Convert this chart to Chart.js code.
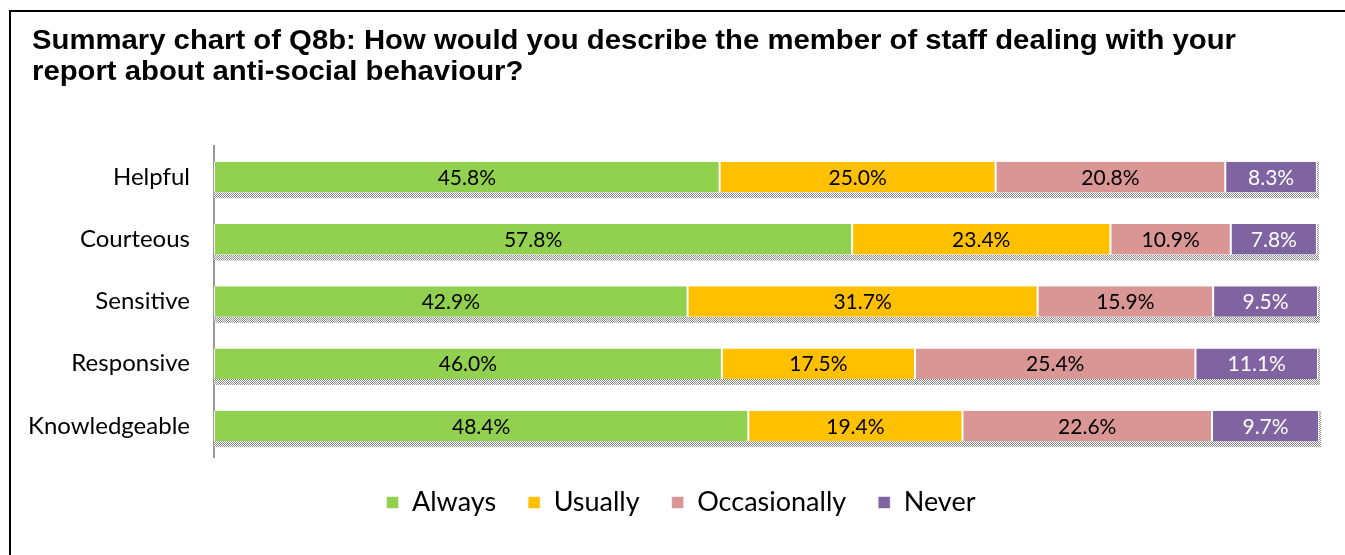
<!DOCTYPE html>
<html>
<head>
<meta charset="utf-8">
<script src="https://cdn.jsdelivr.net/npm/chart.js@4.4.1/dist/chart.umd.min.js"></script>
<style>
  html, body { margin: 0; padding: 0; background: #fff; overflow: hidden; }
  #wrap { position: relative; width: 1345px; height: 555px; }
  #frame { position: absolute; left: 9px; top: 10px; width: 1400px; height: 600px;
           border-left: 2px solid #000; border-top: 2px solid #000; box-sizing: border-box; }
  canvas { position: absolute; left: 0; top: 0; }
</style>
</head>
<body>
<div id="wrap">
  <div id="frame"></div>
  <canvas id="c" width="1345" height="555"></canvas>
</div>
<script>
const titleLines = [
  "Summary chart of Q8b: How would you describe the member of staff dealing with your",
  "report about anti-social behaviour?"
];
const categories = ["Helpful", "Courteous", "Sensitive", "Responsive", "Knowledgeable"];
const seriesNames = ["Always", "Usually", "Occasionally", "Never"];
const always       = [45.8, 57.8, 42.9, 46.0, 48.4];
const usually      = [25.0, 23.4, 31.7, 17.5, 19.4];
const occasionally = [20.8, 10.9, 15.9, 25.4, 22.6];
const never        = [8.3, 7.8, 9.5, 11.1, 9.7];

const colors = ["#92D050", "#FFC000", "#D99694", "#8064A2"];
const labelColors = ["#000", "#000", "#000", "#fff"];
const seriesValues = [always, usually, occasionally, never];

// dotted shadow pattern
function makePattern() {
  const p = document.createElement('canvas');
  p.width = 4; p.height = 2;
  const g = p.getContext('2d');
  g.fillStyle = '#fff'; g.fillRect(0, 0, 4, 2);
  g.fillStyle = '#8a8a8a';
  g.fillRect(0, 0, 1, 1); g.fillRect(2, 0, 1, 1);
  g.fillRect(1, 1, 1, 1); g.fillRect(3, 1, 1, 1);
  return p;
}

const shadowPlugin = {
  id: 'shadow',
  beforeDatasetsDraw(chart) {
    const ctx = chart.ctx;
    const pat = ctx.createPattern(makePattern(), 'repeat');
    const first = chart.getDatasetMeta(0).data;
    const last = chart.getDatasetMeta(chart.data.datasets.length - 1).data;
    ctx.save();
    ctx.fillStyle = pat;
    first.forEach((el, i) => {
      const l = Math.min(el.base, el.x);
      const r = last[i].x;
      const top = el.y - el.height / 2;
      const bot = el.y + el.height / 2;
      ctx.fillRect(l, bot, r - l + 2, 6);
      ctx.fillRect(r, top, 2, bot - top + 6);
    });
    ctx.restore();
  }
};

const labelPlugin = {
  id: 'valueLabels',
  afterDatasetsDraw(chart) {
    const ctx = chart.ctx;
    ctx.save();
    ctx.font = '21px Lato';
    ctx.textAlign = 'center';
    ctx.textBaseline = 'middle';
    chart.data.datasets.forEach((ds, di) => {
      chart.getDatasetMeta(di).data.forEach((el, i) => {
        ctx.fillStyle = labelColors[di];
        ctx.fillText(ds.data[i].toFixed(1) + '%', (el.x + el.base) / 2, el.y + 1);
      });
    });
    ctx.restore();
  }
};

// Title drawn as text, slightly widened to match the reference lettering
const titlePlugin = {
  id: 'stretchTitle',
  afterDraw(chart) {
    const ctx = chart.ctx;
    ctx.save();
    ctx.font = 'bold 27px "Liberation Sans"';
    ctx.fillStyle = '#000';
    ctx.textAlign = 'left';
    ctx.textBaseline = 'middle';
    const w = ctx.measureText(titleLines[0]).width;
    const sx = 1204 / w;
    titleLines.forEach((line, i) => {
      ctx.save();
      ctx.translate(32, 42 + i * 31);
      ctx.scale(sx, 1);
      ctx.fillText(line, 0, 0);
      ctx.restore();
    });
    ctx.restore();
  }
};

// Shift the legend block so it is centred like the reference
const legendShift = {
  id: 'legendShift',
  afterLayout(chart) {
    if (chart.legend) { chart.legend.left += 22; chart.legend.right += 22; }
  }
};

new Chart(document.getElementById('c'), {
  type: 'bar',
  data: {
    labels: categories,
    datasets: seriesNames.map((n, i) => ({
      label: n,
      data: seriesValues[i],
      backgroundColor: colors[i],
      borderColor: '#fff',
      borderWidth: { left: 1, right: 1, top: 0, bottom: 0 },
      borderSkipped: false,
      barPercentage: 0.49,
      categoryPercentage: 1.0
    }))
  },
  options: {
    indexAxis: 'y',
    responsive: false,
    animation: false,
    devicePixelRatio: 1,
    layout: { padding: { left: 0, right: 27, top: 146, bottom: 29 } },
    scales: {
      x: { stacked: true, min: 0, max: 100, display: false },
      y: {
        stacked: true,
        afterFit(scale) { scale.width = 214; },
        grid: { display: false, drawTicks: false },
        border: { display: true, color: '#999', width: 2 },
        ticks: { color: '#000', font: { family: 'Lato', size: 24 }, padding: 24 }
      }
    },
    plugins: {
      title: { display: false },
      legend: {
        position: 'bottom',
        labels: { color: '#000', font: { family: 'Lato', size: 27 }, boxWidth: 12, boxHeight: 12, padding: 32 }
      },
      tooltip: { enabled: false }
    }
  },
  plugins: [shadowPlugin, labelPlugin, titlePlugin, legendShift]
});
</script>
</body>
</html>
